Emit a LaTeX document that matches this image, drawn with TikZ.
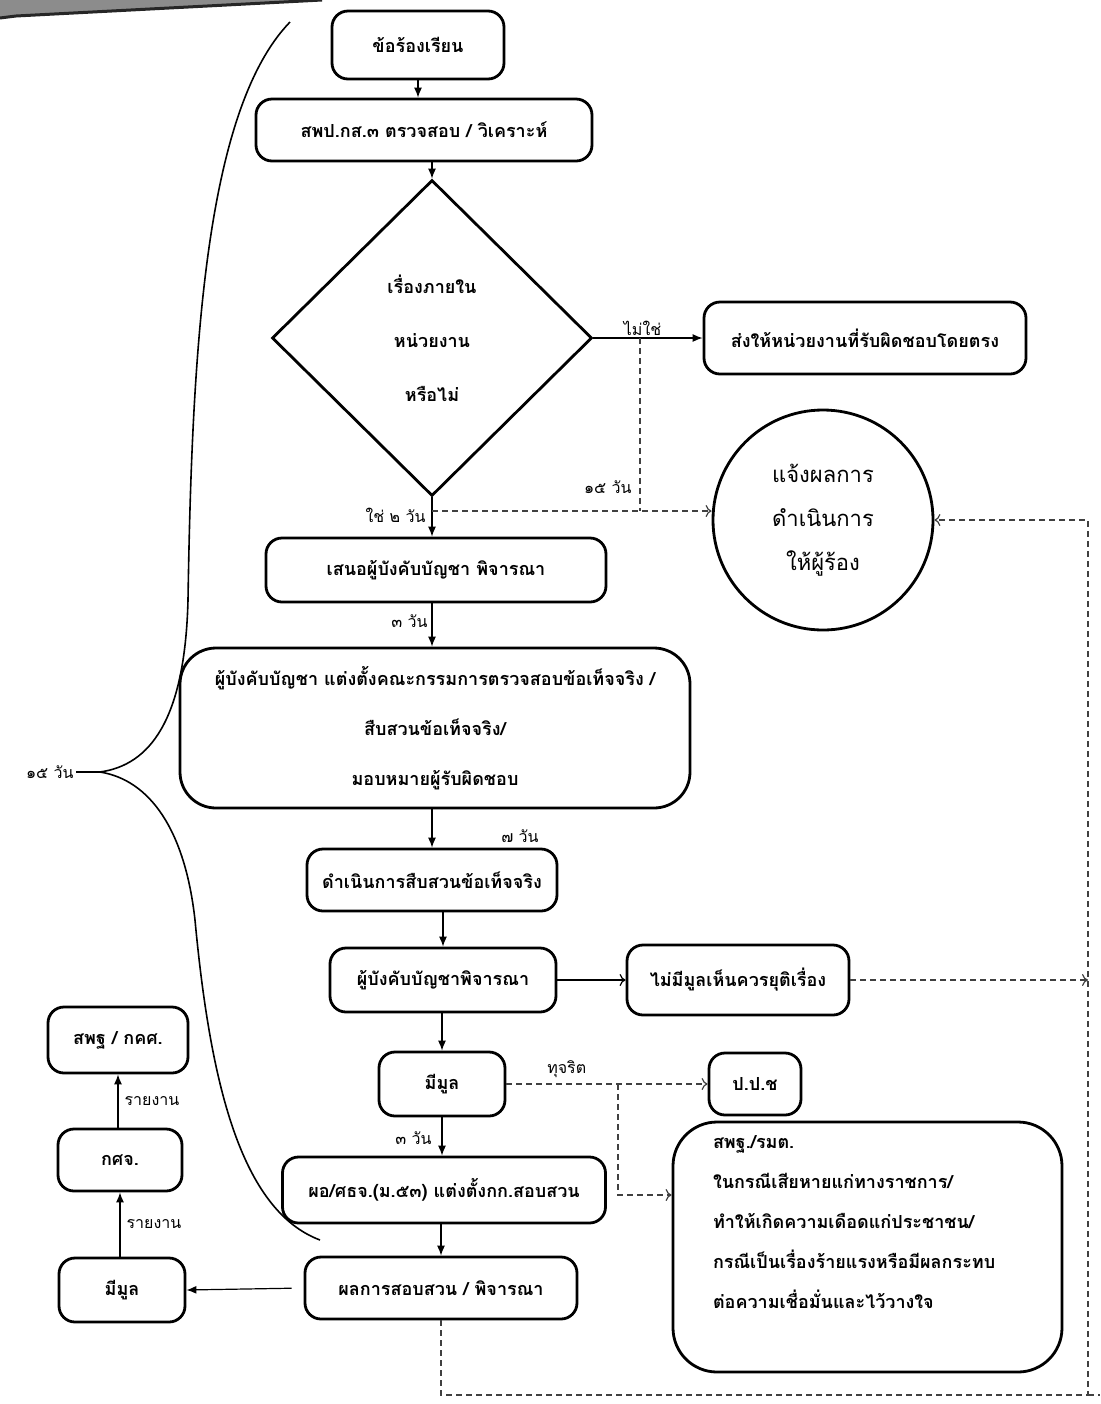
\documentclass[tikz,border=0pt]{standalone}
\usepackage{fontspec}
\newfontfamily\thaifont[Script=Thai]{Loma}
\usetikzlibrary{shapes.geometric,arrows.meta}
\begin{document}
\begin{tikzpicture}[x=0.5pt,y=-0.5pt,
  font=\thaifont\bfseries\fontsize{9}{11}\selectfont,
  box/.style={draw, line width=1.4pt, rounded corners=8pt, align=center, inner sep=2pt},
  arr/.style={-{Latex[length=5pt,width=4pt]}, line width=0.6pt},
  oarr/.style={-{To[length=3pt,width=6pt]}, line width=0.6pt},
  dline/.style={dashed, dash pattern=on 3pt off 2pt, line width=0.6pt, draw=black!75},
  lbl/.style={font=\thaifont\fontsize{8}{10}\selectfont, inner sep=1pt}
]
\useasboundingbox (0,0) rectangle (1100,1404);
% cropped header band
\fill[black!45] (0,0) -- (322,0) -- (16,16) -- (0,18) -- cycle;
\draw[black!85, line width=1.5pt] (322,0) -- (16,16) -- (0,18);

% nodes
\node[box, minimum width=86pt, minimum height=34pt] (n1) at (418,45) {ข้อร้องเรียน};
\node[box, minimum width=168pt, minimum height=31pt] (n2) at (424,130) {สพป.กส.๓ ตรวจสอบ / วิเคราะห์};
\node[draw, diamond, line width=1.4pt, minimum width=160pt, minimum height=158pt, inner sep=0pt, align=center] (d) at (432,338) {เรื่องภายใน\\[16pt]หน่วยงาน\\[16pt]หรือไม่};
\node[box, minimum width=161pt, minimum height=36pt] (n3) at (865,338) {ส่งให้หน่วยงานที่รับผิดชอบโดยตรง};
\node[draw, circle, line width=1.4pt, minimum size=110pt, inner sep=0pt, align=center, font=\thaifont\fontsize{11}{13}\selectfont] (c) at (823,520) {แจ้งผลการ\\[9pt]ดำเนินการ\\[9pt]ให้ผู้ร้อง};
\node[box, minimum width=170pt, minimum height=32pt] (n4) at (436,570) {เสนอผู้บังคับบัญชา พิจารณา};
\node[box, minimum width=255pt, minimum height=80pt, rounded corners=18pt] (n5) at (435,728) {ผู้บังคับบัญชา แต่งตั้งคณะกรรมการตรวจสอบข้อเท็จจริง /\\[14pt]สืบสวนข้อเท็จจริง/\\[14pt]มอบหมายผู้รับผิดชอบ};
\node[box, minimum width=125pt, minimum height=31pt] (n6) at (432,880) {ดำเนินการสืบสวนข้อเท็จจริง};
\node[box, minimum width=113pt, minimum height=32pt] (n7) at (443,980) {ผู้บังคับบัญชาพิจารณา};
\node[box, minimum width=111pt, minimum height=35pt] (n8) at (738,980) {ไม่มีมูลเห็นควรยุติเรื่อง};
\node[box, minimum width=63pt, minimum height=32pt] (n9) at (442,1084) {มีมูล};
\node[box, minimum width=46pt, minimum height=31pt] (n10) at (755,1084) {ป.ป.ช};
\node[box, minimum width=194.5pt, minimum height=125pt, rounded corners=22pt, align=left, text width=154.5pt, inner xsep=0pt] (n11) at (867.5,1247) {สพฐ./รมต.\\[9pt]ในกรณีเสียหายแก่ทางราชการ/\\[9pt]ทำให้เกิดความเดือดแก่ประชาชน/\\[9pt]กรณีเป็นเรื่องร้ายแรงหรือมีผลกระทบ\\[9pt]ต่อความเชื่อมั่นและไว้วางใจ\\[14pt]~};
\node[box, minimum width=161.5pt, minimum height=33pt] (n12) at (444,1190) {ผอ/ศธจ.(ม.๕๓) แต่งตั้งกก.สอบสวน};
\node[box, minimum width=136pt, minimum height=31pt] (n13) at (441,1288) {ผลการสอบสวน / พิจารณา};
\node[box, minimum width=63pt, minimum height=32pt] (n14) at (122,1290) {มีมูล};
\node[box, minimum width=62pt, minimum height=31pt] (n15) at (120,1160) {กศจ.};
\node[box, minimum width=70pt, minimum height=33pt] (n16) at (118,1040) {สพฐ / กคศ.};

% main column
\draw[arr] (n1.south) -- (n1.south |- n2.north);
\draw[arr] (d.north |- n2.south) -- (d.north);
\draw[arr] (d.south) -- (d.south |- n4.north);
\draw[arr] (d.east) -- (n3.west) node[lbl, pos=0.45, above] {ไม่ใช่};
\draw[arr] (n4.south -| d.south) -- (d.south |- n5.north);
\draw[arr] (n5.south -| d.south) -- (d.south |- n6.north);
\draw[arr] (n6.south -| n7.north) -- (n7.north);
\draw[oarr] (n7.east) -- (n8.west);
\draw[arr] (n7.south -| n9.north) -- (n9.north);
\draw[arr] (n9.south) -- (n9.south |- n12.north);
\draw[arr] (n12.south -| n13.north) -- (n13.north);
\draw[arr, shorten <=6pt] (n13.west) -- (n14.east);
\draw[arr] (n14.north -| n15.south) -- (n15.south) node[lbl, midway, right=2pt] {รายงาน};
\draw[arr] (n15.north -| n16.south) -- (n16.south) node[lbl, midway, right=2pt] {รายงาน};

% day labels
\node[lbl, anchor=east] (l2) at (428,515) {ใช่ ๒ วัน};
\node[lbl, anchor=east] (l3) at (430,621) {๓ วัน};
\node[lbl] (l7) at (520,836) {๗ วัน};
\node[lbl, anchor=east] (l3b) at (434,1138) {๓ วัน};

% dashed connectors
\coordinate (j1) at (d.south |- 0,511);
\coordinate (j2) at (d.east -| 640,0);
\draw[dline, oarr] (j1) -- (j1 -| c.west);
\draw[dline] (j2) -- (j2 |- j1);
\node[lbl, anchor=east] (l15a) at (634,487) {๑๕ วัน};

\coordinate (r1) at (1088,980);
\draw[dline, oarr] (n8.east) -- (r1);
\coordinate (b1) at (n13.south |- 0,1395);
\coordinate (b2) at (1088,1395);
\coordinate (b3) at (1100,1395);
\draw[dline, oarr] (n13.south) -- (b1) -- (b2) -- (b2 |- c.east) -- (c.east);
\draw[dline] (b2) -- (b3);

\draw[dline, oarr] (n9.east) -- (n10.west) node[lbl, pos=0.3, above=2pt] {ทุจริต};
\coordinate (j3) at (n9.east -| 618,0);
\coordinate (j4) at (618,1195);
\draw[dline, oarr] (j3) -- (j4) -- (j4 -| n11.west);

% brace of 15 days
\node[lbl, anchor=east] (l15) at (76,772) {๑๕ วัน};
\coordinate (jb) at (100,772);
\coordinate (bt) at (290,22);
\coordinate (bb) at (320,1240);
\draw[line width=0.8pt] (l15.east) -- (jb);
\draw[line width=0.8pt] (jb) .. controls (150,765) and (185,720) .. (188,600) .. controls (192,350) and (205,110) .. (bt);
\draw[line width=0.8pt] (jb) .. controls (150,780) and (185,830) .. (195,920) .. controls (210,1080) and (240,1210) .. (bb);
\end{tikzpicture}
\end{document}
